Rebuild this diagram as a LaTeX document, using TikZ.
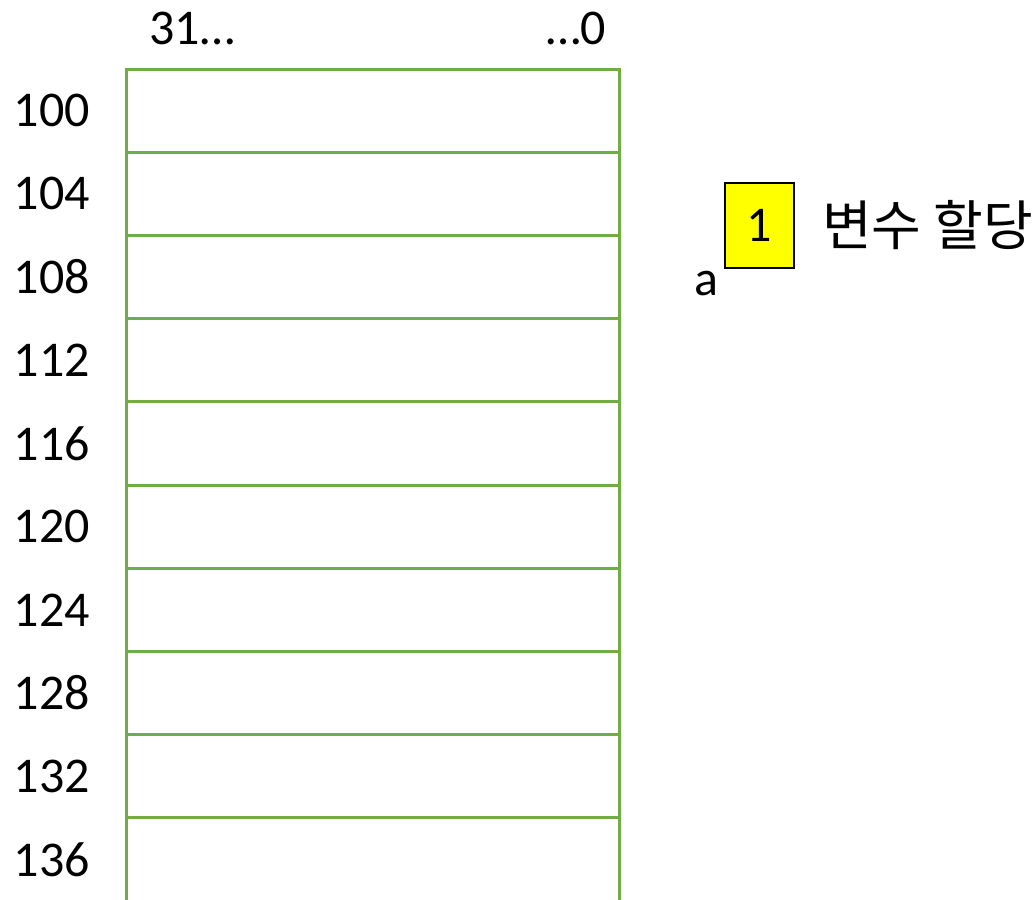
\documentclass[tikz,border=0pt]{standalone}
\usepackage{fontspec}
\setmainfont{Carlito}
\newfontfamily\kofont{Noto Sans CJK KR}
\usetikzlibrary{positioning}
\definecolor{memgreen}{HTML}{70AD47}
\definecolor{varyellow}{HTML}{FFFF00}
\tikzset{
  memcell/.style={rectangle,draw=memgreen,line width=3pt,minimum width=493pt,
    minimum height=83.2pt,inner sep=0pt,outer sep=0pt},
  addrlabel/.style={font=\fontsize{50}{56}\selectfont,inner sep=0pt},
  bitlabel/.style={font=\fontsize{50}{56}\selectfont,inner sep=0pt},
  varbox/.style={rectangle,draw=black,fill=varyellow,line width=2pt,
    minimum width=69pt,minimum height=85pt,inner sep=0pt,
    font=\fontsize{50}{56}\selectfont},
  varname/.style={font=\fontsize{50}{56}\selectfont,inner sep=0pt},
  notetext/.style={font=\kofont\fontsize{54}{60}\selectfont,inner sep=0pt},
}
\begin{document}
\begin{tikzpicture}[x=1pt,y=-1pt]
  \useasboundingbox (0,0) rectangle (1035,899);
  % memory rows
  \foreach \i/\addr in {1/100,2/104,3/108,4/112,5/116,6/120,7/124,8/128,9/132,10/136}{
    \node[memcell] (cell\i) at (372.5,{69+83.2*(\i-0.5)}) {};
    \node[addrlabel] (addr\i) at (52,{69+83.2*(\i-0.5)}) {\addr};
  }
  \node[bitlabel] (msb) at (192,28) {31…};
  \node[bitlabel] (lsb) at (576,28) {…0};
  % variable a
  \node[varbox] (var) at (759.5,225.5) {1};
  \node[varname] (varlbl) at (706,284) {a};
  \node[notetext,right=27pt of var] (note) {변수 할당};
\end{tikzpicture}
\end{document}
